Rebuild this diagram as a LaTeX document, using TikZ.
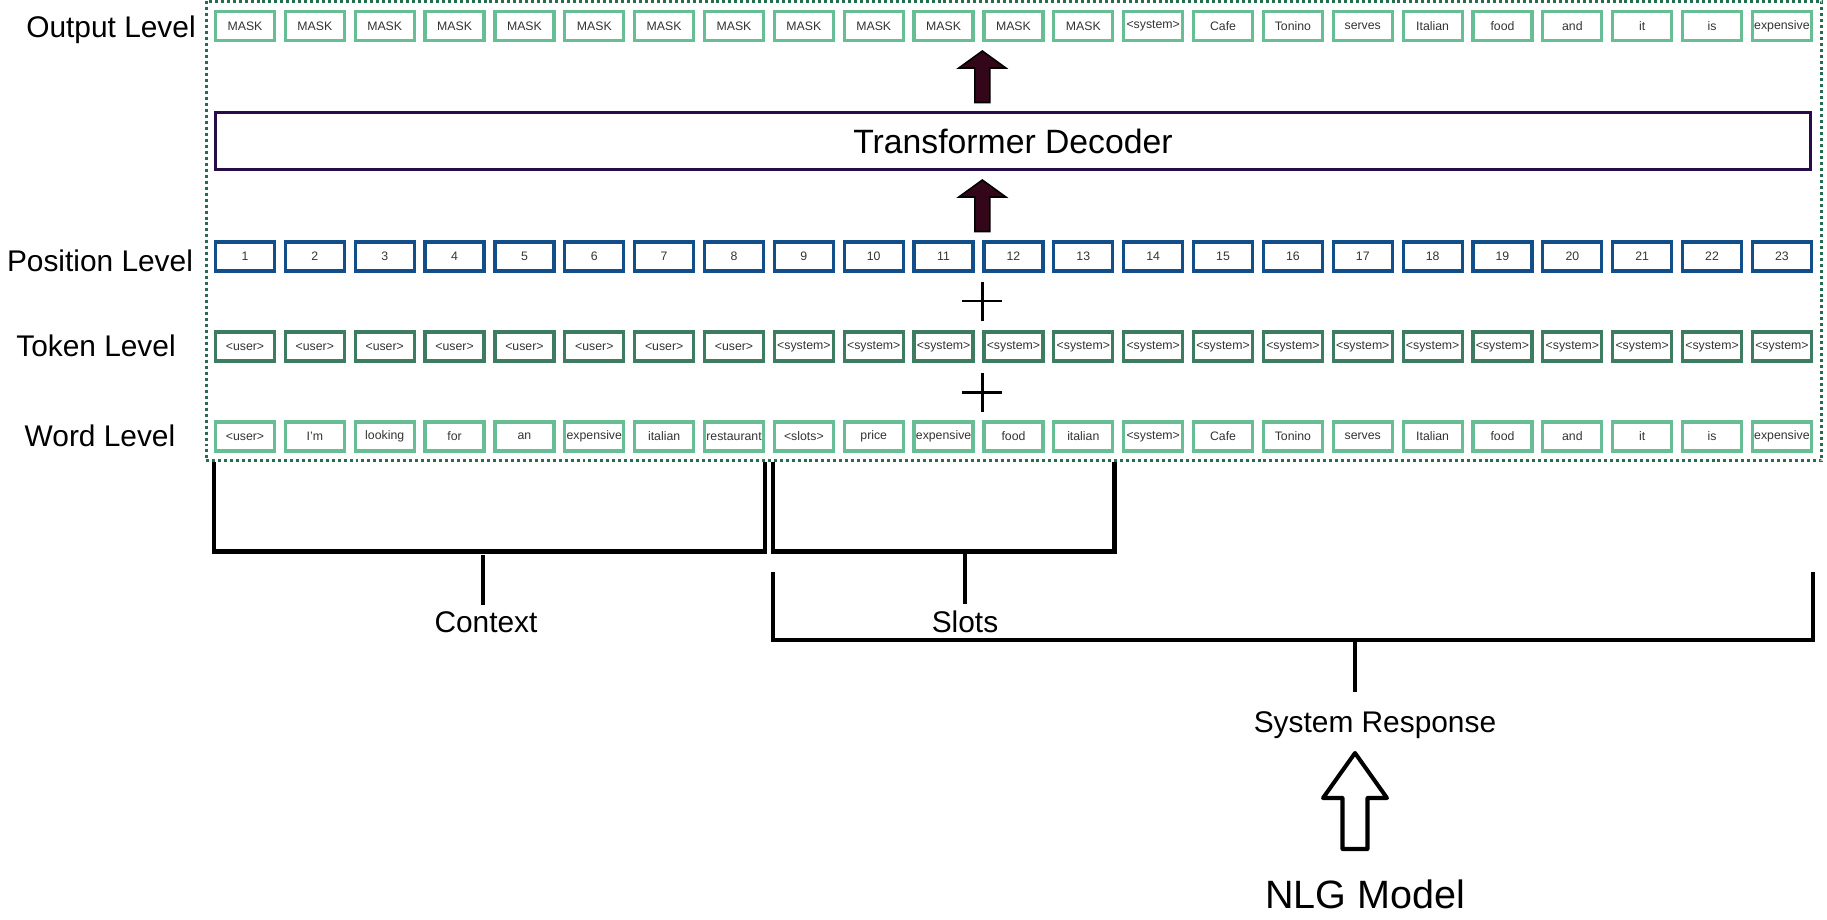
\documentclass[tikz,border=0pt]{standalone}
\usepackage{fontspec}
\setmainfont{Liberation Sans}
\usetikzlibrary{positioning,calc}

\definecolor{wordgreen}{RGB}{103,189,148}
\definecolor{tokgreen}{RGB}{62,124,98}
\definecolor{posblue}{RGB}{18,78,138}
\definecolor{decpurple}{RGB}{40,12,72}
\definecolor{framegreen}{RGB}{38,108,78}
\definecolor{arrowfill}{RGB}{52,6,26}

\begin{document}
\begin{tikzpicture}[x=0.02cm,y=-0.02cm,
	box/.style={draw,line width=1.85pt,minimum width=1.18cm,minimum height=0.58cm,inner sep=0pt,text=black!80,font=\fontsize{7}{8}\selectfont},
	wordbox/.style={box,draw=wordgreen},
	tokbox/.style={box,draw=tokgreen},
	posbox/.style={box,draw=posblue},
	decbox/.style={draw=decpurple,line width=1.7pt,minimum width=31.9cm,minimum height=1.14cm,font=\fontsize{19.2}{22}\selectfont},
	frame/.style={draw=framegreen,line width=1.7pt,dash pattern=on 1.7pt off 1.7pt,minimum width=32.32cm,minimum height=9.2cm},
	level/.style={anchor=base,font=\fontsize{17}{20}\selectfont},
	bracket/.style={line width=2.5pt},
	fatarrow/.style={draw=black,fill=arrowfill,line width=0.9pt},
	plus/.style={line width=1.7pt},
	hollow/.style={draw=black,fill=white,line width=2.3pt,line join=round}]

\useasboundingbox (0,0) rectangle (1827,920);

\node[frame] (frame) at (1014,231) {};

\node[level] (lout) at (111,37) {Output Level};
\node[level] (lpos) at (100,271.5) {Position Level};
\node[level] (ltok) at (96,356.5) {Token Level};
\node[level] (lword) at (100,446.5) {Word Level};

% the four rows of tokens
\foreach[count=\i] \w in {MASK,MASK,MASK,MASK,MASK,MASK,MASK,MASK,MASK,MASK,MASK,MASK,MASK,<system>,Cafe,Tonino,serves,Italian,food,and,it,is,expensive}
	\node[wordbox] (o\i) at ({245+(\i-1)*69.86},26) {\w};
\foreach \i in {1,...,23}
	\node[posbox] (p\i) at ({245+(\i-1)*69.86},256.5) {\i};
\foreach \i in {1,...,23}
	\node[tokbox] (t\i) at ({245+(\i-1)*69.86},346.5) {\ifnum\i<9 <user>\else <system>\fi};
\foreach[count=\i] \w in {<user>,I'm,looking,for,an,expensive,italian,restaurant,<slots>,price,expensive,food,italian,<system>,Cafe,Tonino,serves,Italian,food,and,it,is,expensive}
	\node[wordbox] (w\i) at ({245+(\i-1)*69.86},436.5) {\w};

\node[decbox] (dec) at (1013,141) {Transformer Decoder};

\foreach \y in {51,180}
	\draw[fatarrow] (p12.west |- 0,\y) -- ++(23.5,17) -- ++(-16,0) -- ++(0,34.5) -- ++(-15,0) -- ++(0,-34.5) -- ++(-16,0) -- cycle;
\foreach \y in {301,392}
	\draw[plus] (p12.west |- 0,\y) +(-20,0) -- +(20,0) +(0,-19.5) -- +(0,19.5);

% brackets under the word level
\draw[bracket] (w1.south west |- frame.south) -- ++(0,89) -| (w8.south east |- frame.south);
\draw[bracket] (w9.south west |- frame.south) -- ++(0,89) -| (w13.south east |- frame.south);
\draw[bracket] (w9.south west |- 0,572) -- ++(0,68) -| (w23.south east |- 0,572);

\node[level] (ctx) at (486,632) {Context};
\node[level] (slots) at (965,632) {Slots};
\node[level] (resp) at (1375,732) {System Response};
\node[anchor=base,font=\fontsize{22.5}{25}\selectfont] (nlg) at (1365,908) {NLG Model};

\draw[bracket] (ctx.north) ++(-3,0) -- ++(0,-50);
\draw[bracket] (slots.north) -- ++(0,-50);
\draw[bracket] (1355,640) -- (1355,692);

\draw[hollow] (1355,753) -- ++(32,45) -- ++(-19.5,0) -- ++(0,51) -- ++(-25,0) -- ++(0,-51) -- ++(-19.5,0) -- cycle;

\end{tikzpicture}
\end{document}
